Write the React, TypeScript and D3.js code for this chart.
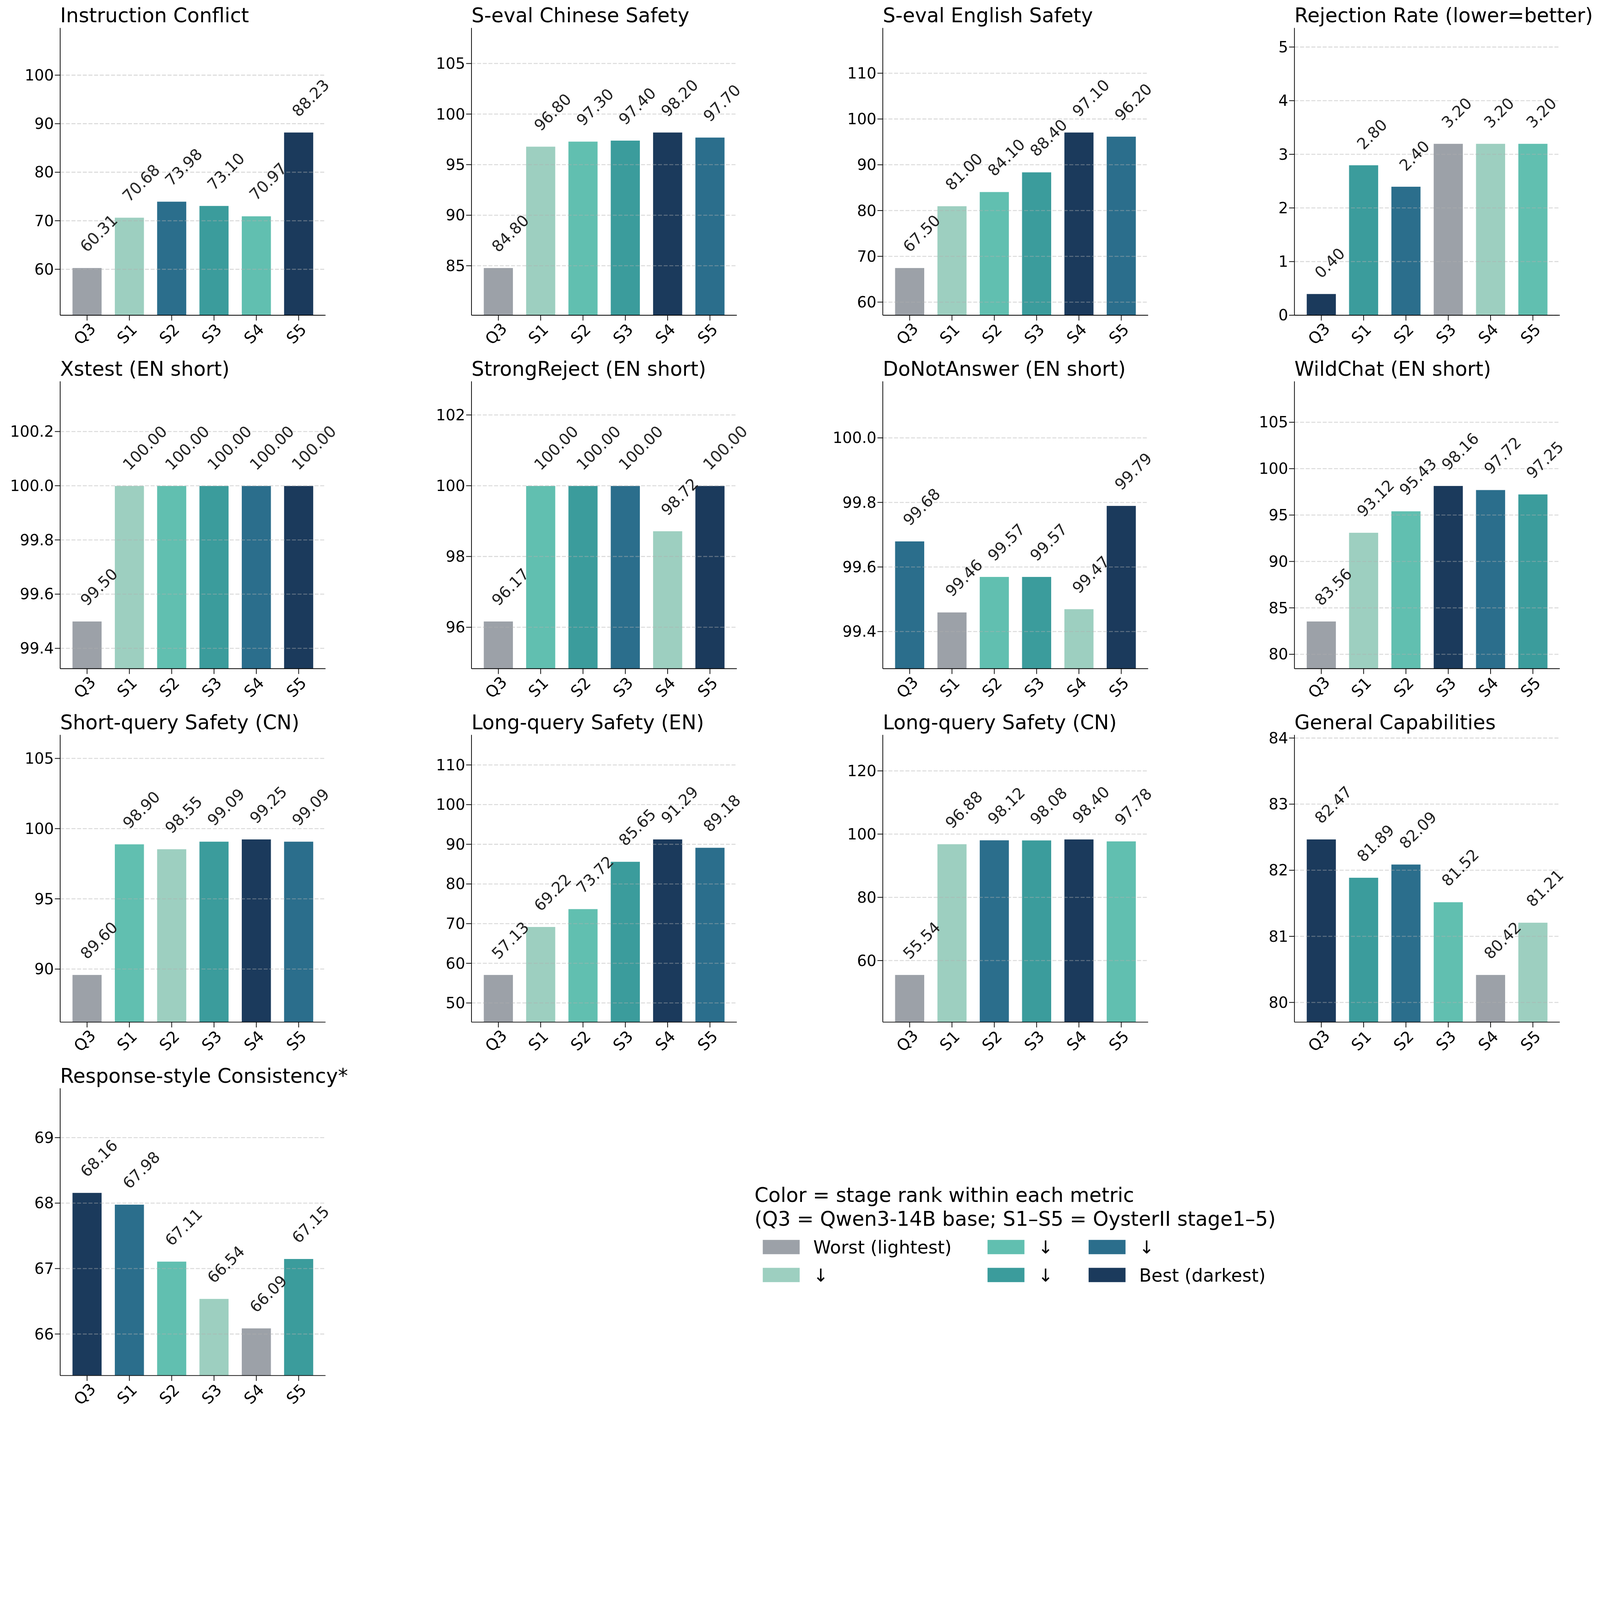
import * as d3 from 'd3';

// stage labels on every x axis
const stages = ['Q3', 'S1', 'S2', 'S3', 'S4', 'S5'];

const metricTitles = [
  'Instruction Conflict',
  'S-eval Chinese Safety',
  'S-eval English Safety',
  'Rejection Rate (lower=better)',
  'Xstest (EN short)',
  'StrongReject (EN short)',
  'DoNotAnswer (EN short)',
  'WildChat (EN short)',
  'Short-query Safety (CN)',
  'Long-query Safety (EN)',
  'Long-query Safety (CN)',
  'General Capabilities',
  'Response-style Consistency*',
];

// values per metric, in stage order Q3, S1..S5
const instructionConflict = [60.31, 70.68, 73.98, 73.1, 70.97, 88.23];
const sevalChinese = [84.8, 96.8, 97.3, 97.4, 98.2, 97.7];
const sevalEnglish = [67.5, 81.0, 84.1, 88.4, 97.1, 96.2];
const rejectionRate = [0.4, 2.8, 2.4, 3.2, 3.2, 3.2];
const xstest = [99.5, 100.0, 100.0, 100.0, 100.0, 100.0];
const strongReject = [96.17, 100.0, 100.0, 100.0, 98.72, 100.0];
const doNotAnswer = [99.68, 99.46, 99.57, 99.57, 99.47, 99.79];
const wildChat = [83.56, 93.12, 95.43, 98.16, 97.72, 97.25];
const shortQueryCN = [89.6, 98.9, 98.55, 99.09, 99.25, 99.09];
const longQueryEN = [57.13, 69.22, 73.72, 85.65, 91.29, 89.18];
const longQueryCN = [55.54, 96.88, 98.12, 98.08, 98.4, 97.78];
const generalCaps = [82.47, 81.89, 82.09, 81.52, 80.42, 81.21];
const responseStyle = [68.16, 67.98, 67.11, 66.54, 66.09, 67.15];

const metricValues = [
  instructionConflict, sevalChinese, sevalEnglish, rejectionRate,
  xstest, strongReject, doNotAnswer, wildChat,
  shortQueryCN, longQueryEN, longQueryCN, generalCaps,
  responseStyle,
];

const lowerIsBetter = [false, false, false, true, false, false, false, false, false, false, false, false, false];

// y tick labels as printed on each panel
const yTickLabels = [
  ['60', '70', '80', '90', '100'],
  ['85', '90', '95', '100', '105'],
  ['60', '70', '80', '90', '100', '110'],
  ['0', '1', '2', '3', '4', '5'],
  ['99.4', '99.6', '99.8', '100.0', '100.2'],
  ['96', '98', '100', '102'],
  ['99.4', '99.6', '99.8', '100.0'],
  ['80', '85', '90', '95', '100', '105'],
  ['90', '95', '100', '105'],
  ['50', '60', '70', '80', '90', '100', '110'],
  ['60', '80', '100', '120'],
  ['80', '81', '82', '83', '84'],
  ['66', '67', '68', '69'],
];

// worst -> best
const rankColors = ['#9ca1a8', '#9dcfc0', '#61bfb0', '#3b9c9c', '#2b6e8c', '#1b3a5c'];
const legendLabels = ['Worst (lightest)', '↓', '↓', '↓', '↓', 'Best (darkest)'];
const legendTitle = [
  'Color = stage rank within each metric',
  '(Q3 = Qwen3-14B base; S1–S5 = OysterII stage1–5)',
];

const W = 4812;
const H = 4254;
const FONT = '"DejaVu Sans", sans-serif';

const colLeft = [181, 1418, 2655, 3893];
const rowTop = [84, 1147, 2210, 3273];
const plotW = 798;
const plotH = 864;
const barWidth = 0.7;

function rankOf(values: number[], lower: boolean): number[] {
  const score = values.map((v) => (lower ? -v : v));
  const order = d3.range(values.length).sort((a, b) => score[a] - score[b] || a - b);
  const ranks = new Array(values.length).fill(0);
  order.forEach((idx, r) => { ranks[idx] = r; });
  return ranks;
}

function Panel({ idx }: { idx: number }) {
  const values = metricValues[idx];
  const left = colLeft[idx % 4];
  const top = rowTop[Math.floor(idx / 4)];
  const bottom = top + plotH;

  const lo = d3.min(values) as number;
  const hi = d3.max(values) as number;
  // very flat metrics still get a readable range
  const span = Math.max(hi - lo, 0.5);
  const yMin = Math.max(0, lo - span * 0.35);
  const yMax = hi + span * 0.77;

  const x = d3.scaleLinear()
    .domain([-barWidth / 2 - 0.285, stages.length - 1 + barWidth / 2 + 0.285])
    .range([left, left + plotW]);
  const y = d3.scaleLinear().domain([yMin, yMax]).range([bottom, top]);
  const ranks = rankOf(values, lowerIsBetter[idx]);
  const ticks = yTickLabels[idx];

  return (
    <g>
      <text x={left} y={top - 17} fontSize={60} fontFamily={FONT} fill="#000">
        {metricTitles[idx]}
      </text>

      {values.map((v, i) => (
        <rect
          key={'b' + i}
          x={x(i - barWidth / 2)}
          y={y(v)}
          width={x(barWidth) - x(0)}
          height={bottom - y(v)}
          fill={rankColors[ranks[i]]}
          stroke="#ffffff"
          strokeWidth={1.5}
        />
      ))}

      {ticks.map((t) => (
        <line
          key={'g' + t}
          x1={left}
          x2={left + plotW}
          y1={y(+t)}
          y2={y(+t)}
          stroke="#b0b0b0"
          strokeOpacity={0.45}
          strokeWidth={3}
          strokeDasharray="12,5"
        />
      ))}

      {values.map((v, i) => (
        <text
          key={'l' + i}
          transform={`translate(${x(i)},${y(v) - 44}) rotate(-45)`}
          fontSize={47}
          fontFamily={FONT}
          fill="#222222"
        >
          {v.toFixed(2)}
        </text>
      ))}

      <line x1={left} x2={left} y1={top} y2={bottom} stroke="#000" strokeWidth={2.2} />
      <line x1={left} x2={left + plotW} y1={bottom} y2={bottom} stroke="#000" strokeWidth={2.2} />

      {ticks.map((t) => (
        <g key={'yt' + t}>
          <line x1={left - 16} x2={left} y1={y(+t)} y2={y(+t)} stroke="#000" strokeWidth={2.2} />
          <text
            x={left - 19}
            y={y(+t)}
            fontSize={46}
            fontFamily={FONT}
            textAnchor="end"
            dominantBaseline="central"
          >
            {t}
          </text>
        </g>
      ))}

      {stages.map((s, i) => (
        <g key={'xt' + s}>
          <line x1={x(i)} x2={x(i)} y1={bottom} y2={bottom + 16} stroke="#000" strokeWidth={2.2} />
          <text
            transform={`translate(${x(i) - 7},${bottom + 56}) rotate(-45)`}
            fontSize={48}
            fontFamily={FONT}
            textAnchor="middle"
            dominantBaseline="central"
          >
            {s}
          </text>
        </g>
      ))}
    </g>
  );
}

function Legend() {
  const titleX = 2269;
  const swatchX = [2294, 2970, 3274];
  const swatchY = [3729, 3813];
  return (
    <g fontFamily={FONT}>
      {legendTitle.map((line, i) => (
        <text key={line} x={titleX} y={3615 + i * 72} fontSize={60}>
          {line}
        </text>
      ))}
      {legendLabels.map((label, i) => {
        const cx = swatchX[Math.floor(i / 2)];
        const cy = swatchY[i % 2];
        return (
          <g key={'lg' + i}>
            <rect x={cx} y={cy} width={111} height={43} fill={rankColors[i]} />
            <text x={cx + 152} y={cy + 41} fontSize={54}>
              {label}
            </text>
          </g>
        );
      })}
    </g>
  );
}

export default function App() {
  // scale the whole figure into whatever viewport the page gets
  return (
    <svg
      viewBox={`0 0 ${W} ${H}`}
      preserveAspectRatio="xMinYMin meet"
      style={{ position: 'fixed', left: 0, top: 0, width: '100vw', height: '100vh', display: 'block' }}
    >
      <rect width={W} height={H} fill="#ffffff" />
      {metricTitles.map((_, i) => (
        <Panel key={i} idx={i} />
      ))}
      <Legend />
    </svg>
  );
}
